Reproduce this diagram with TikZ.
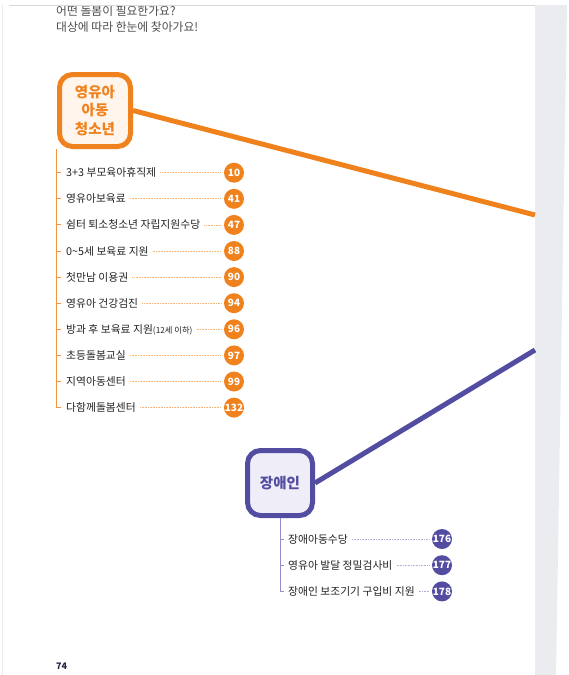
\documentclass[tikz,border=0pt]{standalone}
\usepackage{fontspec}
\setmainfont{Noto Sans CJK KR}
\usetikzlibrary{positioning}
\definecolor{corg}{HTML}{F0821E}
\definecolor{corgl}{HTML}{FFF5EC}
\definecolor{corgd}{HTML}{F5B47A}
\definecolor{cpur}{HTML}{524DA1}
\definecolor{cpurl}{HTML}{EFEEF8}
\definecolor{cpurt}{HTML}{928EC7}
\definecolor{cpurd}{HTML}{B0ADD6}
\definecolor{ctxt}{HTML}{222222}
\definecolor{chead}{HTML}{4D4D4D}
\definecolor{cgrey}{HTML}{EBECF0}
\definecolor{cpage}{HTML}{1F2540}
\tikzset{
  obox/.style={rectangle, rounded corners=13pt, draw=corg, fill=corgl, line width=5pt,
               minimum width=71pt, minimum height=72pt, align=center, text=corg,
               font=\fontsize{14.5}{18.3}\selectfont\bfseries},
  pbox/.style={obox, draw=cpur, fill=cpurl, minimum width=65pt, minimum height=65pt, text=cpur},
  onum/.style={circle, fill=corg, minimum size=20pt, inner sep=0pt, outer sep=0pt,
               text=white, font=\fontsize{10}{10}\selectfont\bfseries},
  pnum/.style={onum, fill=cpur},
  item/.style={anchor=west, inner sep=0pt, text=ctxt, text height=8.5pt, text depth=0.5pt,
               font=\fontsize{10.8}{12}\selectfont},
  olead/.style={draw=corgd, line width=0.7pt, dash pattern=on 0.8pt off 0.8pt,
                shorten <=4pt, shorten >=3pt},
  plead/.style={olead, draw=cpurd},
  otrunk/.style={draw=corg!85, line width=1pt},
  ptrunk/.style={draw=cpurt, line width=1pt},
  oline/.style={draw=corg, line width=5pt},
  pline/.style={draw=cpur, line width=5pt},
  head/.style={anchor=west, align=left, inner sep=0pt, text=chead,
               font=\fontsize{11.8}{16}\selectfont}
}
\begin{document}
\begin{tikzpicture}[x=1pt, y=-1pt, node distance=6.1pt]
\useasboundingbox (0,0) rectangle (568,675);
% page edge
\fill[cgrey] (535,5) -- (567,5) -- (556,675) -- (535,675) -- cycle;
\draw[gray!30, line width=0.8pt] (9,5.4) -- (535,5.4);
\draw[gray!15] (2,5) -- (2,675);
\begin{scope}
\clip (0,6) rectangle (535,40);
\node[head] (hd) at (56,19) {어떤 돌봄이 필요한가요?\\대상에 따라 한눈에 찾아가요!};
\end{scope}
% 영유아 아동 청소년
\node[obox] (ob) at (95,110.5) {영유아\\아동\\청소년};
\coordinate (oend) at (535,215);
\draw[oline] (ob.east) -- (oend);
\coordinate (otx) at (66,0);
\coordinate (otr) at (56,0);
\node[onum] (c1) at (234,172.7) {10};
\node[onum, below=of c1] (c2) {41};
\node[onum, below=of c2] (c3) {47};
\node[onum, below=of c3] (c4) {88};
\node[onum, below=of c4] (c5) {90};
\node[onum, below=of c5] (c6) {94};
\node[onum, below=of c6] (c7) {96};
\node[onum, below=of c7] (c8) {97};
\node[onum, below=of c8] (c9) {99};
\node[onum, below=of c9] (c10) {132};
\node[item] (t1) at (c1 -| otx) {3+3 부모육아휴직제};
\node[item] (t2) at (c2 -| otx) {영유아보육료};
\node[item] (t3) at (c3 -| otx) {쉼터 퇴소청소년 자립지원수당};
\node[item] (t4) at (c4 -| otx) {0\textasciitilde5세 보육료 지원};
\node[item] (t5) at (c5 -| otx) {첫만남 이용권};
\node[item] (t6) at (c6 -| otx) {영유아 건강검진};
\node[item] (t7) at (c7 -| otx) {방과 후 보육료 지원{\fontsize{8.3}{9}\selectfont(12세 이하)}};
\node[item] (t8) at (c8 -| otx) {초등돌봄교실};
\node[item] (t9) at (c9 -| otx) {지역아동센터};
\node[item] (t10) at (c10 -| otx) {다함께돌봄센터};
\draw[olead] (t1.east) -- (c1.west); \draw[olead] (t2.east) -- (c2.west);
\draw[olead] (t3.east) -- (c3.west); \draw[olead] (t4.east) -- (c4.west);
\draw[olead] (t5.east) -- (c5.west); \draw[olead] (t6.east) -- (c6.west);
\draw[olead] (t7.east) -- (c7.west); \draw[olead] (t8.east) -- (c8.west);
\draw[olead] (t9.east) -- (c9.west); \draw[olead] (t10.east) -- (c10.west);
\draw[otrunk, shorten >=5pt] (ob.south -| otr) -- (t10 -| otr) -- (t10.west);
\draw[otrunk, shorten >=5pt] (t1 -| otr) -- (t1.west); \draw[otrunk, shorten >=5pt] (t2 -| otr) -- (t2.west);
\draw[otrunk, shorten >=5pt] (t3 -| otr) -- (t3.west); \draw[otrunk, shorten >=5pt] (t4 -| otr) -- (t4.west);
\draw[otrunk, shorten >=5pt] (t5 -| otr) -- (t5.west); \draw[otrunk, shorten >=5pt] (t6 -| otr) -- (t6.west);
\draw[otrunk, shorten >=5pt] (t7 -| otr) -- (t7.west); \draw[otrunk, shorten >=5pt] (t8 -| otr) -- (t8.west);
\draw[otrunk, shorten >=5pt] (t9 -| otr) -- (t9.west);
% 장애인
\node[pbox] (pb) at (280,483) {장애인};
\coordinate (pend) at (535,350);
\draw[pline] (pb.east) -- (pend);
\coordinate (ptx) at (288,0);
\node[pnum] (pc1) at (442,539) {176};
\node[pnum, below=6.2pt of pc1] (pc2) {177};
\node[pnum, below=6.2pt of pc2] (pc3) {178};
\node[item] (pt1) at (pc1 -| ptx) {장애아동수당};
\node[item] (pt2) at (pc2 -| ptx) {영유아 발달 정밀검사비};
\node[item] (pt3) at (pc3 -| ptx) {장애인 보조기기 구입비 지원};
\draw[plead] (pt1.east) -- (pc1.west); \draw[plead] (pt2.east) -- (pc2.west);
\draw[plead] (pt3.east) -- (pc3.west);
\draw[ptrunk, shorten >=4pt] (pb.south) -- (pt3 -| pb) -- (pt3.west);
\draw[ptrunk, shorten >=4pt] (pt1 -| pb) -- (pt1.west);
\draw[ptrunk, shorten >=4pt] (pt2 -| pb) -- (pt2.west);
% page number
\node[text=cpage, font=\fontsize{9}{10}\selectfont\bfseries] (pg) at (61.5,666) {74};
\end{tikzpicture}
\end{document}
